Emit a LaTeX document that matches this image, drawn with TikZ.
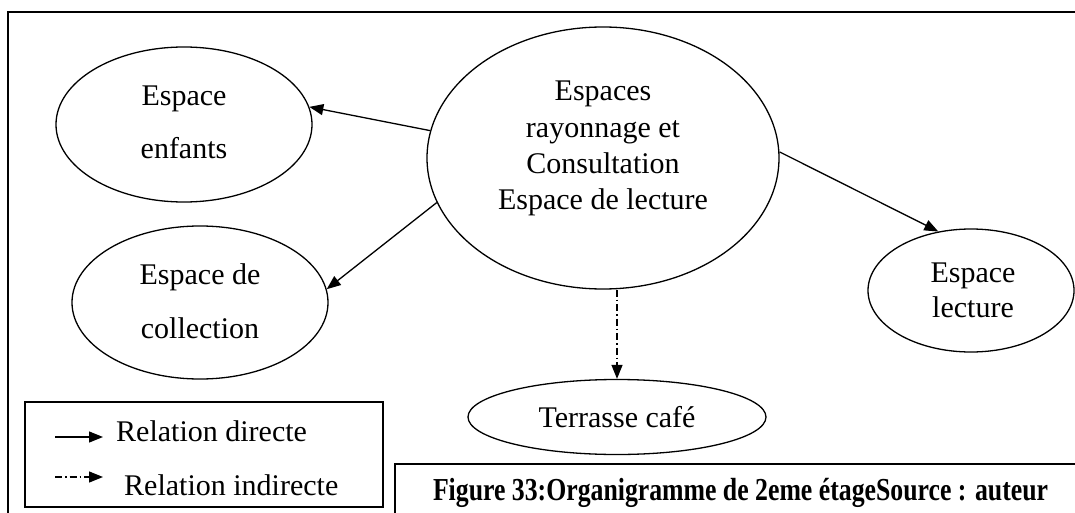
\documentclass[tikz,border=0pt]{standalone}
\usepackage{graphicx}
\usepackage{fontspec}
\setmainfont{Liberation Serif}
\usetikzlibrary{shapes.geometric,arrows.meta}
\begin{document}
\begin{tikzpicture}[x=1pt,y=-1pt,
  frame/.style={line width=1.4pt},
  zone/.style={ellipse,draw,line width=1.3pt,inner sep=0pt},
  txt/.style={inner sep=0pt,align=center},
  rel/.style={line width=1.3pt,-{Triangle[length=14pt,width=11pt]}},
  relind/.style={rel,dash pattern=on 7pt off 3pt on 1.5pt off 3pt}
]
\useasboundingbox (0,0) rectangle (1075,513);
% outer frame and boxes
\draw[frame] (8,513) -- (8,12) -- (1075,12);
\draw[frame] (395,513) -- (395,464) -- (1075,464);
\draw[frame] (25,402) rectangle (383,507);

% zones
\node[zone,minimum width=352pt,minimum height=262pt] (main) at (603,158) {};
\node[zone,minimum width=256pt,minimum height=155pt] (enfants) at (184,124.5) {};
\node[zone,minimum width=256pt,minimum height=153pt] (collection) at (200,302.5) {};
\node[zone,minimum width=206pt,minimum height=123pt] (lecture) at (971,290.5) {};
\node[zone,minimum width=298pt,minimum height=75pt,font=\fontsize{30}{36}\selectfont] (terrasse) at (617,417) {Terrasse café};

% zone texts
\node[txt,anchor=north,font=\fontsize{30}{36.3}\selectfont] (main-t) at (603,81) {Espaces\\rayonnage et\\Consultation\\Espace de lecture};
\node[txt,anchor=north,font=\fontsize{30}{53}\selectfont] (enfants-t) at (184,86) {Espace\\enfants};
\node[txt,anchor=north,font=\fontsize{30}{54}\selectfont] (collection-t) at (200,263) {Espace de\\collection};
\node[txt,anchor=north,font=\fontsize{30}{35}\selectfont] (lecture-t) at (973,263) {Espace\\lecture};

% relations
\draw[rel] (main.171) -- (enfants.8);
\draw[rel] (main.195) -- (collection.6);
\draw[rel] (main.2) -- (lecture.119);
\draw[relind] (terrasse.north |- main.south) -- (terrasse.north);

% legend
\coordinate (l1s) at (55,437);
\coordinate (l1e) at (103,437);
\coordinate (l2s) at (55,477);
\coordinate (l2e) at (103,477);
\draw[rel] (l1s) -- (l1e);
\draw[relind] (l2s) -- (l2e);
\node[txt,anchor=base west,font=\fontsize{30}{36}\selectfont] (leg1) at (116,441) {Relation directe};
\node[txt,anchor=base west,font=\fontsize{30}{36}\selectfont] (leg2) at (124,495) {Relation indirecte};

% caption
\node[inner sep=0pt,anchor=base] (cap) at (740.5,500) {\resizebox{615pt}{\height}{\fontsize{32}{32}\selectfont\bfseries Figure 33:Organigramme de 2eme étageSource : auteur}};
\end{tikzpicture}
\end{document}
